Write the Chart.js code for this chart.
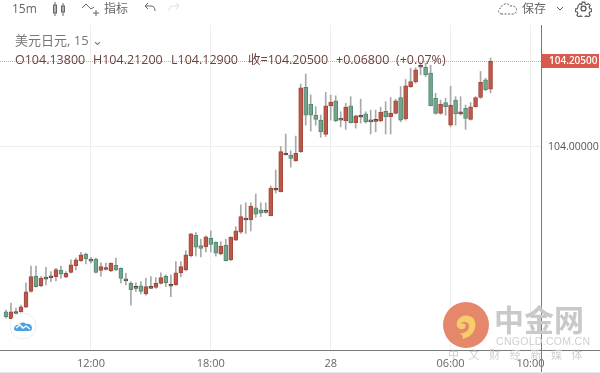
<!DOCTYPE html>
<html lang="zh">
<head>
<meta charset="UTF-8">
<title>美元日元 15m</title>
<script src="https://cdn.jsdelivr.net/npm/chart.js"></script>
<style>
    html, body { margin: 0; padding: 0; background: #fff; }
    #wrap { position: relative; width: 600px; height: 373px; overflow: hidden; font-family: 'Open Sans', 'Noto Sans CJK SC', sans-serif; filter: blur(0.35px); }
    #chart { position: absolute; left: 0; top: 0; }
    .txt { position: absolute; white-space: nowrap; line-height: 1; }
    .tool { color: #666; font-size: 12px; }
    .quote { color: #6b3f3a; font-size: 12.5px; top: 54px; }
    svg { position: absolute; }
</style>
</head>
<body>
<div id="wrap">
    <canvas id="chart" width="600" height="373"></canvas>

    <div class="txt tool" style="left:12px;top:3px">15m</div>
    <svg style="left:52px;top:1px" width="14" height="16" viewBox="0 0 14 16" fill="none" stroke="#666"><path d="M3 1v14M11 2v13"/><rect x="1.5" y="4" width="3" height="8"/><rect x="9.5" y="5" width="3" height="6"/></svg>
    <svg style="left:81px;top:1px" width="20" height="16" viewBox="0 0 20 16" fill="none" stroke="#666"><path d="M1 7l4-4 5 5 3-2"/><path d="M15 9v6M12 12h6"/></svg>
    <div class="txt tool" style="left:104px;top:3px">指标</div>
    <svg style="left:144px;top:2px" width="13" height="13" viewBox="0 0 13 13" fill="none" stroke="#666"><path d="M4 1L1 4l3 3M1 4h6c3 0 4 2 4 5"/></svg>
    <svg style="left:167px;top:2px" width="13" height="13" viewBox="0 0 13 13" fill="none" stroke="#ddd"><path d="M9 1l3 3-3 3M12 4H6C3 4 2 6 2 9"/></svg>
    <svg style="left:497px;top:1px" width="22" height="15" viewBox="0 0 22 15" fill="none" stroke="#666" stroke-dasharray="2 1.5"><path d="M5 13C1 13 0 8 4 7c0-4 7-6 9-2 5-1 8 3 6 6-1 2-2 2-3 2z"/></svg>
    <div class="txt tool" style="left:522px;top:3px">保存</div>
    <svg style="left:556px;top:6px" width="8" height="5" viewBox="0 0 8 5" fill="none" stroke="#666"><path d="M1 1l3 3 3-3"/></svg>
    <svg style="left:575px;top:0" width="17" height="17" viewBox="0 0 24 24" fill="none" stroke="#555" stroke-width="1.8"><circle cx="12" cy="12" r="3.5"/><path d="M10 2h4l.6 3 2.4 1 2.6-1.6 2.8 2.8-1.6 2.6 1 2.4 3 .6v0 4l-3 .6-1 2.4 1.6 2.6-2.8 2.8-2.6-1.6-2.4 1-.6 3h-4l-.6-3-2.4-1-2.6 1.6-2.8-2.8 1.6-2.6-1-2.4-3-.6v-4l3-.6 1-2.4L3.6 7.2l2.8-2.8L9 6l.4-1z" transform="translate(1.2 1.2) scale(.9)"/></svg>

    <div class="txt" style="left:15px;top:34px;color:#777;font-size:13px">美元日元, 15 ⌄</div>
    <div class="txt quote" style="left:15px">O104.13800</div>
    <div class="txt quote" style="left:93px">H104.21200</div>
    <div class="txt quote" style="left:171px">L104.12900</div>
    <div class="txt quote" style="left:248px">收=104.20500</div>
    <div class="txt quote" style="left:336px">+0.06800</div>
    <div class="txt quote" style="left:396px">(+0.07%)</div>

    <!-- bottom-left badge -->
    <svg style="left:9px;top:312px" width="28" height="28" viewBox="0 0 28 28"><circle cx="14" cy="14" r="13" fill="#fff" stroke="#e8eef2"/><path d="M5 17c0-3 3-5 5-4 2-3 5-3 7-1 3-1 6 1 6 4 0 2-1 3-3 3H8c-2 0-3-1-3-2z" fill="#4aa3e0"/><path d="M7 16l4-3 3 3 3-2 4 3" fill="none" stroke="#fff" stroke-width="1.4"/></svg>

    <!-- watermark -->
    <svg style="left:442px;top:301px" width="48" height="48" viewBox="0 0 48 48"><circle cx="24" cy="24" r="23" fill="#e5876a"/><path d="M20 38c8-1 15-8 13-17-1-6-9-8-14-5-5 3-6 10-1 12 4 1 7-2 5-5-1-1-3-1-4 0 1-3 6-3 8 1 1 5-4 9-9 8 2 2 4 4 2 6z" fill="#f6cd6a"/></svg>
    <div class="txt" style="left:494px;top:303px;color:#c9c9c9;font-size:30px;font-weight:700;font-family:'Noto Sans CJK SC'">中金网</div>
    <div class="txt" style="left:496px;top:336px;color:#cfcfcf;font-size:10.5px;letter-spacing:.3px;font-family:'Liberation Sans'">CNGOLD.COM.CN</div>
    <div class="txt" style="left:448px;top:349px;color:#cfcfcf;font-size:11px;letter-spacing:9.6px">中文财经新媒体</div>
</div>
<script>
    // 15 minute bars, first bar 07:45, last bar 08:00 next day
    const opens = [103.607,103.591,103.606,103.607,103.618,103.656,103.692,103.669,103.687,103.688,103.691,103.706,103.690,103.701,103.717,103.729,103.745,103.730,103.732,103.706,103.708,103.705,103.718,103.711,103.685,103.675,103.667,103.669,103.650,103.663,103.665,103.675,103.692,103.671,103.672,103.700,103.707,103.741,103.790,103.765,103.762,103.782,103.773,103.745,103.766,103.731,103.778,103.797,103.826,103.826,103.855,103.850,103.848,103.836,103.897,103.893,103.981,103.981,103.967,103.989,104.142,104.102,104.076,104.064,104.030,104.098,104.110,104.067,104.062,104.098,104.058,104.071,104.079,104.063,104.061,104.062,104.085,104.072,104.080,104.118,104.067,104.144,104.155,104.190,104.190,104.176,104.116,104.080,104.106,104.052,104.112,104.079,104.092,104.066,104.096,104.118,104.160,104.138];
    const highs = [103.611,103.628,103.616,103.623,103.676,103.716,103.716,103.691,103.713,103.703,103.711,103.716,103.703,103.731,103.735,103.749,103.747,103.737,103.735,103.724,103.723,103.724,103.735,103.712,103.699,103.679,103.676,103.679,103.687,103.691,103.689,103.700,103.695,103.695,103.727,103.727,103.753,103.794,103.796,103.780,103.788,103.800,103.774,103.774,103.780,103.786,103.810,103.862,103.867,103.867,103.888,103.867,103.867,103.907,103.945,104.001,104.031,103.991,104.026,104.150,104.174,104.124,104.096,104.076,104.130,104.124,104.122,104.084,104.104,104.120,104.076,104.114,104.084,104.088,104.088,104.095,104.108,104.118,104.114,104.144,104.161,104.188,104.189,104.200,104.200,104.195,104.128,104.112,104.116,104.145,104.120,104.120,104.100,104.106,104.120,104.180,104.164,104.212];
    const lows = [103.592,103.590,103.602,103.606,103.617,103.654,103.666,103.667,103.671,103.679,103.681,103.687,103.689,103.699,103.707,103.727,103.721,103.723,103.700,103.692,103.707,103.703,103.705,103.676,103.671,103.623,103.655,103.650,103.647,103.663,103.663,103.673,103.667,103.643,103.670,103.691,103.705,103.738,103.740,103.738,103.750,103.750,103.740,103.743,103.728,103.729,103.777,103.794,103.794,103.800,103.832,103.834,103.842,103.836,103.890,103.893,103.981,103.952,103.966,103.987,104.052,104.038,104.052,104.023,104.025,104.064,104.060,104.048,104.042,104.057,104.045,104.057,104.057,104.031,104.036,104.060,104.031,104.031,104.079,104.060,104.064,104.142,104.152,104.172,104.168,104.098,104.078,104.078,104.076,104.048,104.052,104.076,104.042,104.064,104.095,104.116,104.134,104.129];
    const closes = [103.595,103.607,103.603,103.619,103.655,103.691,103.667,103.687,103.685,103.692,103.708,103.697,103.699,103.719,103.731,103.743,103.733,103.728,103.701,103.715,103.712,103.723,103.707,103.687,103.681,103.660,103.663,103.656,103.667,103.666,103.675,103.689,103.676,103.668,103.700,103.715,103.743,103.793,103.761,103.758,103.786,103.768,103.747,103.764,103.729,103.785,103.800,103.834,103.829,103.859,103.840,103.842,103.844,103.902,103.900,103.989,103.984,103.973,103.985,104.141,104.076,104.076,104.066,104.036,104.098,104.107,104.062,104.064,104.095,104.058,104.074,104.075,104.060,104.060,104.064,104.083,104.072,104.081,104.110,104.064,104.146,104.156,104.184,104.193,104.172,104.098,104.080,104.102,104.096,104.100,104.079,104.083,104.068,104.096,104.118,104.154,104.136,104.205];

    // bar index of each time label on the x axis
    const timeTicks = [17, 41, 65, 89, 105];
    const timeLabels = ['12:00', '18:00', '28', '06:00', '10:00'];
    const priceTicks = [104];

    const lastPrice = closes[closes.length - 1];
    const upColor = '#b9594c', upEdge = '#a5473b';
    const downColor = '#74a48c', downEdge = '#4f8b6f';
    const dojiEdge = '#54483f';

    function bodyEdge(o, i) {
        if (Math.abs(closes[i] - o) < 0.005) return dojiEdge; // nearly flat bars read as a dark dash
        return closes[i] >= o ? upEdge : downEdge;
    }

    const priceLine = {
        id: 'priceLine',
        beforeDatasetsDraw(chart) {
            const { ctx, chartArea, scales } = chart;
            const y = Math.round(scales.y.getPixelForValue(lastPrice)) + 0.5;
            ctx.save();
            ctx.strokeStyle = '#dba79c';
            ctx.setLineDash([1, 1]);
            ctx.beginPath();
            ctx.moveTo(0, y);
            ctx.lineTo(chartArea.right, y);
            ctx.stroke();
            ctx.restore();
        },
        afterDraw(chart) {
            const { ctx, chartArea, scales, width, height } = chart;
            const y = scales.y.getPixelForValue(lastPrice);
            ctx.save();
            // axis lines run past the plot to the window edge
            ctx.strokeStyle = '#7a7a7a';
            ctx.beginPath();
            ctx.moveTo(chartArea.right + 0.5, chartArea.bottom);
            ctx.lineTo(chartArea.right + 0.5, height);
            ctx.moveTo(chartArea.right, chartArea.bottom + 0.5);
            ctx.lineTo(width, chartArea.bottom + 0.5);
            ctx.stroke();
            ctx.strokeStyle = '#e6e6e6';
            ctx.beginPath();
            ctx.moveTo(0, height - 0.5);
            ctx.lineTo(width, height - 0.5);
            ctx.stroke();
            // last price tag
            ctx.fillStyle = '#d9594c';
            ctx.fillRect(chartArea.right + 1, y - 7, width - chartArea.right - 2, 14);
            ctx.fillStyle = '#fff';
            ctx.font = '600 10px "Open Sans"';
            ctx.textAlign = 'left';
            ctx.textBaseline = 'middle';
            ctx.fillText(lastPrice.toFixed(5), chartArea.right + 8, y + 0.5);
            ctx.restore();
        }
    };

    new Chart(document.getElementById('chart'), {
        type: 'bar',
        data: {
            datasets: [
                {
                    label: 'body',
                    order: 1,
                    barThickness: 4,
                    minBarLength: 2,
                    borderWidth: 1,
                    borderSkipped: false,
                    data: opens.map((o, i) => ({ x: i, y: [o, closes[i]] })),
                    backgroundColor: opens.map((o, i) => closes[i] >= o ? upColor : downColor),
                    borderColor: opens.map(bodyEdge)
                },
                {
                    label: 'wick',
                    order: 2,
                    barThickness: 1,
                    data: lows.map((l, i) => ({ x: i, y: [l, highs[i]] })),
                    backgroundColor: '#a8a8a8'
                }
            ]
        },
        options: {
            responsive: false,
            animation: false,
            layout: { padding: { top: 25 } },
            datasets: { bar: { grouped: false } },
            plugins: { legend: { display: false }, tooltip: { enabled: false } },
            scales: {
                x: {
                    type: 'linear',
                    offset: false,
                    min: -1.2,
                    max: 107.1,
                    afterFit(axis) { axis.height = 23; },
                    afterBuildTicks(axis) { axis.ticks = timeTicks.map(v => ({ value: v })); },
                    grid: { color: '#eeeeee', drawTicks: false, offset: false },
                    border: { color: '#7a7a7a' },
                    ticks: {
                        padding: 7,
                        maxRotation: 0,
                        autoSkip: false,
                        color: '#666',
                        font: { family: 'Open Sans', size: 11 },
                        callback: value => timeLabels[timeTicks.indexOf(value)]
                    }
                },
                y: {
                    position: 'right',
                    min: 103.5161,
                    max: 104.2908,
                    afterFit(axis) { axis.width = 59; },
                    afterBuildTicks(axis) { axis.ticks = priceTicks.map(v => ({ value: v })); },
                    grid: { color: '#eeeeee', drawTicks: false },
                    border: { color: '#7a7a7a' },
                    ticks: {
                        padding: 7,
                        color: '#555',
                        font: { family: 'Open Sans', size: 10.5 },
                        callback: value => value.toFixed(5)
                    }
                }
            }
        },
        plugins: [priceLine]
    });
</script>
</body>
</html>
